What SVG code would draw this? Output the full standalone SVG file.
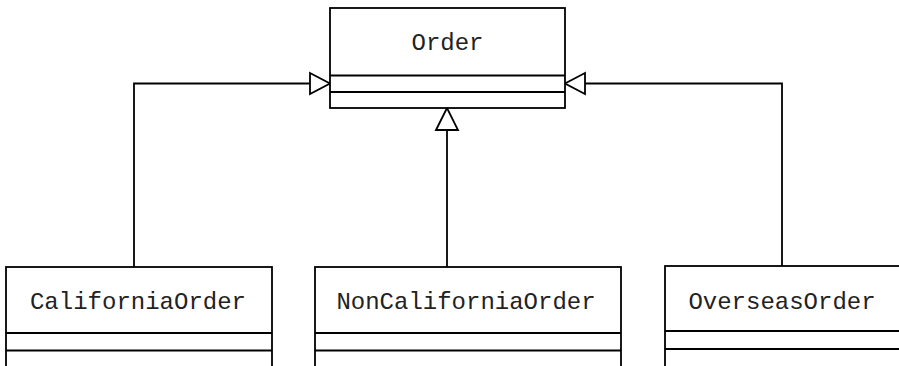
<svg xmlns="http://www.w3.org/2000/svg" width="899" height="366" viewBox="0 0 899 366">
<style>
.box{fill:#fff;stroke:#000;stroke-width:1.8}
.ln{fill:none;stroke:#000;stroke-width:1.8}
.tri{fill:#fff;stroke:#000;stroke-width:1.8;stroke-linejoin:miter}
text{font-family:"Liberation Mono","Courier New",monospace;font-size:24px;fill:#222}
</style>
<rect width="899" height="366" fill="#fff"/>
<g id="connectors">
<polyline class="ln" points="134,267 134,83.5 310,83.5"/>
<polygon class="tri" points="310,73 330,83.5 310,94"/>
<polyline class="ln" points="782,266 782,83.5 585,83.5"/>
<polygon class="tri" points="585,73 565,83.5 585,94"/>
<line class="ln" x1="447" y1="267" x2="447" y2="130"/>
<polygon class="tri" points="436,130 447,108 458,130"/>
</g>
<g id="Order">
<rect class="box" x="330" y="8" width="235" height="100"/>
<line class="ln" x1="330" y1="75.5" x2="565" y2="75.5"/>
<line class="ln" x1="330" y1="92" x2="565" y2="92"/>
<text x="447.5" y="50" text-anchor="middle">Order</text>
</g>
<g id="CaliforniaOrder">
<rect class="box" x="6" y="267" width="266" height="120"/>
<line class="ln" x1="6" y1="333" x2="272" y2="333"/>
<line class="ln" x1="6" y1="350.5" x2="272" y2="350.5"/>
<text x="138" y="309" text-anchor="middle">CaliforniaOrder</text>
</g>
<g id="NonCaliforniaOrder">
<rect class="box" x="315" y="267" width="306" height="120"/>
<line class="ln" x1="315" y1="333" x2="621" y2="333"/>
<line class="ln" x1="315" y1="350.5" x2="621" y2="350.5"/>
<text x="466" y="309" text-anchor="middle">NonCaliforniaOrder</text>
</g>
<g id="OverseasOrder">
<rect class="box" x="665" y="266" width="260" height="120"/>
<line class="ln" x1="665" y1="331" x2="925" y2="331"/>
<line class="ln" x1="665" y1="349" x2="925" y2="349"/>
<text x="782" y="309" text-anchor="middle">OverseasOrder</text>
</g>
</svg>
